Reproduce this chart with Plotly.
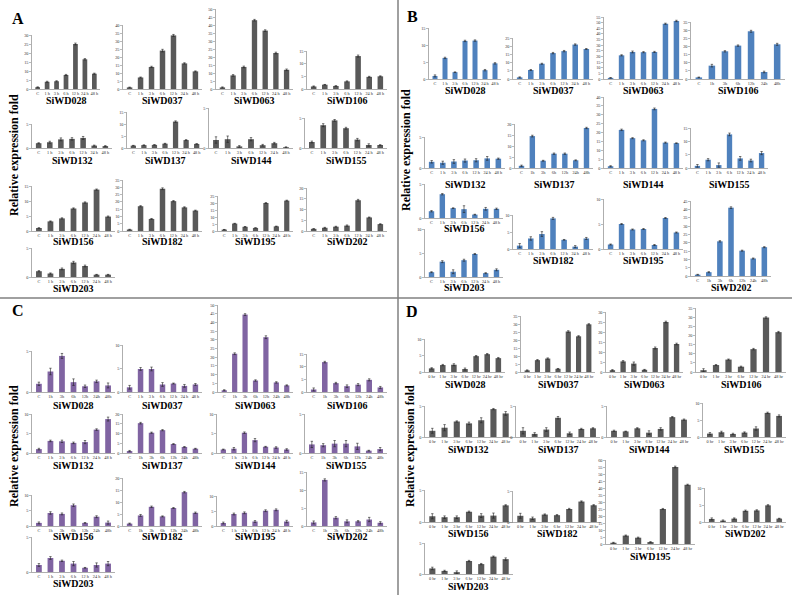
import plotly.graph_objects as go

W, H = 792, 595

GENES = ["SiWD028", "SiWD037", "SiWD063", "SiWD106", "SiWD132", "SiWD137", "SiWD144",
         "SiWD155", "SiWD156", "SiWD182", "SiWD195", "SiWD202", "SiWD203"]

LBL_SP = ["C", "1 h", "3 h", "6 h", "12 h", "24 h", "48 h"]
LBL_NS = ["C", "1h", "3h", "6h", "12h", "24h", "48h"]
LBL_HR = ["0 hr", "1 hr", "3 hr", "6 hr", "12 hr", "24 hr", "48 hr"]

# ---------------- Panel A ----------------
A_VALUES = {
    "SiWD028": [1, 4, 4.3, 7.8, 25, 16.5, 8.5],
    "SiWD037": [1, 7.2, 13.8, 24, 33.5, 16, 11],
    "SiWD063": [1, 8.5, 13.8, 43, 36.5, 22.5, 12],
    "SiWD106": [1, 1.7, 1.2, 3, 13, 4.8, 5],
    "SiWD132": [1, 1.2, 1.8, 1.9, 2.1, 0.5, 0.4],
    "SiWD137": [1, 1.2, 1.3, 1.8, 11, 3.3, 1.7],
    "SiWD144": [1, 1.1, 0.2, 1.1, 0.35, 0.6, 0.1],
    "SiWD155": [1, 3.8, 4.6, 3.3, 1.4, 0.5, 0.5],
    "SiWD156": [1, 3.2, 4.2, 7.5, 9.5, 13.8, 4.8],
    "SiWD182": [1, 17, 8.3, 29, 20.5, 16.2, 14],
    "SiWD195": [1, 5.3, 3, 2.2, 20, 3.3, 21.7],
    "SiWD202": [1, 1.5, 2, 2.5, 14.3, 6.3, 3.2],
    "SiWD203": [1, 0.6, 1.4, 2.5, 1.9, 0.4, 0.4],
}
A_ERR = {
    "SiWD028": [0.2, 0.3, 0.3, 0.3, 0.5, 0.4, 0.3],
    "SiWD037": [0.2, 0.3, 0.4, 0.8, 0.6, 0.4, 0.3],
    "SiWD063": [0.3, 0.5, 0.5, 0.5, 0.5, 0.5, 0.5],
    "SiWD106": [0.2, 0.1, 0.1, 0.2, 0.4, 0.2, 0.2],
    "SiWD132": [0.1, 0.2, 0.3, 0.25, 0.3, 0.1, 0.1],
    "SiWD137": [0.1, 0.1, 0.1, 0.15, 0.3, 0.2, 0.1],
    "SiWD144": [0.4, 0.4, 0.1, 0.2, 0.1, 0.1, 0.05],
    "SiWD155": [0.15, 0.25, 0.15, 0.15, 0.2, 0.2, 0.05],
    "SiWD156": [0.1, 0.15, 0.2, 0.2, 0.2, 0.2, 0.2],
    "SiWD182": [0.2, 0.4, 0.3, 0.6, 0.4, 0.4, 0.3],
    "SiWD195": [0.1, 0.2, 0.2, 0.1, 0.3, 0.2, 0.3],
    "SiWD202": [0.1, 0.2, 0.2, 0.3, 0.4, 0.2, 0.2],
    "SiWD203": [0.1, 0.1, 0.15, 0.2, 0.15, 0.05, 0.05],
}
A_YMAX = [30, 40, 50, 15, 5, 15, 5, 5, 15, 35, 25, 20, 5]
A_LABELS = [LBL_SP] * 13

# ---------------- Panel B ----------------
B_VALUES = {
    "SiWD028": [0.9, 6.2, 2, 11.2, 11.3, 2.6, 4.6],
    "SiWD037": [1, 5.5, 9.3, 15.8, 17, 21, 18.3],
    "SiWD063": [1, 21, 24, 23.8, 24, 49, 51.5],
    "SiWD106": [1, 8.2, 17, 20.5, 29.3, 4.3, 21.3],
    "SiWD132": [1, 0.85, 1.05, 1.2, 1.25, 1.55, 1.5],
    "SiWD137": [1, 14.5, 3.3, 6.5, 6.5, 3.5, 18.2],
    "SiWD144": [1, 21.5, 16.8, 15.6, 33.3, 14.3, 14],
    "SiWD155": [0.8, 3.1, 1.1, 12.6, 3.6, 2.8, 5.6],
    "SiWD156": [1, 3.5, 1.45, 1.3, 0.5, 1.35, 1.35],
    "SiWD182": [1, 3.1, 4.4, 9, 2.7, 0.7, 3.1],
    "SiWD195": [0.9, 5, 3.9, 4, 0.8, 6.2, 3.3],
    "SiWD202": [0.8, 2.3, 20.8, 41, 15.2, 10.5, 17.3],
    "SiWD203": [1, 3.2, 1.1, 3.5, 4.8, 0.8, 1.5],
}
B_ERR = {
    "SiWD028": [0.3, 0.2, 0.1, 0.2, 0.2, 0.2, 0.2],
    "SiWD037": [0.3, 0.3, 0.3, 0.4, 0.4, 0.4, 0.3],
    "SiWD063": [0.3, 0.5, 0.8, 0.5, 0.5, 0.5, 0.6],
    "SiWD106": [0.2, 0.8, 0.4, 0.4, 0.6, 0.5, 0.6],
    "SiWD132": [0.2, 0.25, 0.3, 0.25, 0.25, 0.3, 0.1],
    "SiWD137": [0.3, 0.4, 0.2, 0.3, 0.3, 0.2, 0.3],
    "SiWD144": [0.3, 0.4, 0.3, 0.3, 0.5, 0.3, 0.2],
    "SiWD155": [0.5, 0.4, 0.8, 0.5, 0.7, 0.5, 0.6],
    "SiWD156": [0.1, 0.1, 0.05, 0.5, 0.05, 0.2, 0.1],
    "SiWD182": [0.6, 0.5, 0.7, 0.3, 0.1, 0.3, 0.3],
    "SiWD195": [0.1, 0.1, 0.1, 0.1, 0.1, 0.1, 0.1],
    "SiWD202": [0.2, 0.3, 0.4, 0.5, 0.3, 0.3, 0.3],
    "SiWD203": [0.1, 0.2, 0.4, 0.2, 0.1, 0.1, 0.2],
}
B_YMAX = [15, 25, 55, 35, 5, 20, 40, 15, 5, 10, 10, 45, 10]
B_LABELS = [LBL_SP, LBL_SP, LBL_SP, LBL_NS, LBL_SP, LBL_NS, LBL_SP,
            LBL_SP, LBL_SP, LBL_SP, LBL_SP, LBL_NS, LBL_SP]

# ---------------- Panel C ----------------
C_VALUES = {
    "SiWD028": [1, 2.5, 4.4, 1.2, 0.7, 1.3, 0.8],
    "SiWD037": [1, 4.9, 4.9, 1.6, 1.8, 1.3, 1.6],
    "SiWD063": [1, 22, 44.5, 6.6, 31.5, 5.5, 3.8],
    "SiWD106": [1, 11.8, 3.5, 2.3, 2.9, 4.8, 1.8],
    "SiWD132": [1, 3.1, 3, 2.6, 2.8, 6, 8.7],
    "SiWD137": [1, 15.3, 10.4, 11.7, 4.6, 3.1, 2.2],
    "SiWD144": [0.9, 1.1, 5.2, 3.3, 1.6, 1.4, 0.9],
    "SiWD155": [1.1, 1, 1.2, 1.2, 0.85, 0.3, 0.5],
    "SiWD156": [1, 4.2, 3.9, 6.7, 1, 3, 1.1],
    "SiWD182": [1, 4.4, 8, 4, 7.5, 14.1, 5.5],
    "SiWD195": [1, 4, 4.4, 1.5, 5.1, 5.4, 1.5],
    "SiWD202": [1, 12.8, 2.3, 1.3, 1.3, 1.8, 0.9],
    "SiWD203": [1, 2, 1.6, 1.2, 0.6, 1, 1.2],
}
C_ERR = {
    "SiWD028": [0.2, 0.4, 0.3, 0.4, 0.15, 0.15, 0.3],
    "SiWD037": [0.4, 0.3, 0.4, 0.4, 0.1, 0.3, 0.2],
    "SiWD063": [0.3, 0.5, 0.5, 0.4, 0.8, 0.4, 0.3],
    "SiWD106": [0.6, 0.3, 0.3, 0.5, 0.4, 0.4, 0.4],
    "SiWD132": [0.2, 0.2, 0.3, 0.2, 0.4, 0.2, 0.5],
    "SiWD137": [0.3, 0.4, 0.3, 0.3, 0.2, 0.2, 0.2],
    "SiWD144": [0.1, 0.3, 0.2, 0.4, 0.1, 0.2, 0.2],
    "SiWD155": [0.4, 0.2, 0.4, 0.4, 0.4, 0.05, 0.2],
    "SiWD156": [0.3, 0.4, 0.3, 0.4, 0.1, 0.3, 0.5],
    "SiWD182": [0.2, 0.4, 0.3, 0.2, 0.2, 0.3, 0.3],
    "SiWD195": [0.3, 0.3, 0.3, 0.3, 0.3, 0.3, 0.4],
    "SiWD202": [0.4, 0.3, 0.3, 0.4, 0.2, 0.6, 0.3],
    "SiWD203": [0.2, 0.2, 0.1, 0.3, 0.05, 0.3, 0.3],
}
C_YMAX = [5, 10, 50, 15, 10, 20, 10, 5, 10, 20, 10, 15, 5]
C_LABELS = [LBL_NS, LBL_SP, LBL_NS, LBL_NS, LBL_SP, LBL_NS, LBL_SP,
            LBL_NS, LBL_NS, LBL_NS, LBL_SP, LBL_NS, LBL_SP]

# ---------------- Panel D ----------------
D_VALUES = {
    "SiWD028": [1.1, 2.1, 2.2, 0.9, 4.8, 5.4, 4.2],
    "SiWD037": [1, 7.4, 8.4, 2, 25.3, 22.3, 29.8],
    "SiWD063": [0.9, 5.3, 4.2, 1.1, 12, 25, 14],
    "SiWD106": [1, 3.8, 6.8, 2.9, 12.5, 29.8, 21.8],
    "SiWD132": [1, 1.5, 2.5, 2.2, 2.7, 4.5, 3.8],
    "SiWD137": [1, 0.5, 1.2, 3.1, 0.6, 1.3, 1.4],
    "SiWD144": [1, 0.9, 1.4, 0.7, 1.3, 3.2, 2.8],
    "SiWD155": [1, 1.4, 0.9, 1.3, 2.5, 7.1, 6.2],
    "SiWD156": [0.9, 0.75, 0.75, 1.6, 1, 1, 2.6],
    "SiWD182": [1, 0.6, 1.2, 1.1, 2.1, 3.3, 2.7],
    "SiWD195": [0.9, 6, 4.5, 1.4, 25, 55, 42.3],
    "SiWD202": [0.9, 0.4, 1, 3.3, 3.4, 4.9, 1],
    "SiWD203": [0.9, 0.5, 0.3, 2.1, 1.6, 2.8, 2.4],
}
D_ERR = {
    "SiWD028": [0.2, 0.2, 0.3, 0.3, 0.2, 0.2, 0.2],
    "SiWD037": [0.3, 0.4, 0.4, 0.2, 0.5, 0.4, 0.4],
    "SiWD063": [0.3, 0.4, 0.8, 0.2, 0.5, 0.4, 0.4],
    "SiWD106": [0.8, 0.3, 0.3, 0.3, 0.4, 0.4, 0.4],
    "SiWD132": [0.4, 0.5, 0.1, 0.2, 0.4, 0.1, 0.3],
    "SiWD137": [0.5, 0.2, 0.3, 0.2, 0.2, 0.1, 0.1],
    "SiWD144": [0.1, 0.05, 0.1, 0.3, 0.2, 0.1, 0.1],
    "SiWD155": [0.3, 0.3, 0.2, 0.2, 0.5, 0.2, 0.3],
    "SiWD156": [0.4, 0.2, 0.2, 0.1, 0.3, 0.4, 0.1],
    "SiWD182": [0.4, 0.2, 0.1, 0.1, 0.1, 0.1, 0.1],
    "SiWD195": [0.3, 0.4, 0.4, 0.3, 0.4, 0.6, 0.4],
    "SiWD202": [0.3, 0.2, 0.2, 0.2, 0.2, 0.2, 0.1],
    "SiWD203": [0.2, 0.1, 0.2, 0.1, 0.1, 0.1, 0.2],
}
D_YMAX = [10, 35, 30, 35, 5, 5, 5, 10, 5, 5, 60, 10, 5]
D_LABELS = [LBL_HR] * 13

# ---------------- Layout (pixel boxes: x0, y_top, x1, y_base, title_y) ----------------
A_BOX = [(32, 35, 100, 89, 100), (123, 25, 202, 89, 100), (216, 9, 293, 89, 100), (307, 51, 387, 89, 100),
         (32, 124, 112, 148, 161), (127, 112, 203, 148, 161), (209, 108, 293, 148, 161), (305, 118, 387, 148, 161),
         (32, 186, 115, 231, 241), (123, 180, 202, 231, 241), (218, 196, 293, 231, 241), (307, 188, 387, 231, 241),
         (32, 248, 115, 277, 288)]
B_BOX = [(429, 28, 501, 79, 90), (513, 38, 593, 79, 90), (604, 17, 683, 79, 90), (691, 22, 785, 79, 90),
         (425, 137, 505, 168, 184), (515, 124, 593, 168, 184), (604, 97, 683, 168, 184), (691, 128, 768, 168, 184),
         (425, 184, 503, 218, 229), (513, 215, 593, 249, 260), (604, 199, 683, 249, 260), (691, 201, 771, 276, 287),
         (425, 229, 503, 277, 287)]
C_BOX = [(32, 351, 115, 392, 405), (123, 345, 202, 392, 405), (218, 305, 293, 392, 405), (307, 354, 387, 392, 405),
         (32, 414, 115, 453, 465), (123, 414, 202, 453, 465), (217, 414, 293, 453, 465), (305, 414, 387, 453, 465),
         (32, 495, 115, 526, 536), (123, 478, 202, 526, 536), (217, 496, 293, 526, 536), (307, 472, 387, 526, 536),
         (32, 537, 115, 572, 583)]
D_BOX = [(425, 339, 505, 372, 384), (521, 316, 595, 372, 384), (606, 312, 683, 372, 384), (696, 308, 786, 372, 384),
         (425, 406, 513, 437, 449), (516, 406, 600, 437, 449), (607, 406, 691, 437, 449), (703, 403, 786, 437, 449),
         (425, 490, 513, 522, 533), (513, 491, 601, 522, 533), (606, 460, 695, 544, 556), (705, 488, 786, 522, 533),
         (425, 543, 513, 574, 586)]

PANELS = [
    ("A", A_VALUES, A_ERR, A_YMAX, A_LABELS, A_BOX, "#595959", (18, 18), (14, 155)),
    ("B", B_VALUES, B_ERR, B_YMAX, B_LABELS, B_BOX, "#4F81BD", (412, 16), (406, 150)),
    ("C", C_VALUES, C_ERR, C_YMAX, C_LABELS, C_BOX, "#8064A2", (18, 310), (14, 446)),
    ("D", D_VALUES, D_ERR, D_YMAX, D_LABELS, D_BOX, "#595959", (412, 311), (410, 446)),
]

SERIF = "Liberation Serif, Times New Roman, serif"
AXIS_COLOR = "#8C8C8C"
TICK_FONT = dict(family=SERIF, size=4.3, color="#333333")

fig = go.Figure()
layout = {}
annotations = []
k = 0
for letter, vals, errs, ymaxes, labels, boxes, color, lpos, ypos in PANELS:
    for i, gene in enumerate(GENES):
        k += 1
        x0, yt, x1, yb, ty = boxes[i]
        xa = "x" if k == 1 else f"x{k}"
        ya = "y" if k == 1 else f"y{k}"
        fig.add_trace(go.Bar(
            x=list(range(7)), y=vals[gene], width=0.5,
            marker=dict(color=color, line=dict(width=0)),
            error_y=dict(type="data", array=errs[gene], color="#222222", thickness=0.6, width=1.2),
            xaxis=xa, yaxis=ya, showlegend=False, hoverinfo="skip",
        ))
        xkey = "xaxis" if k == 1 else f"xaxis{k}"
        ykey = "yaxis" if k == 1 else f"yaxis{k}"
        layout[xkey] = dict(
            domain=[x0 / W, x1 / W], anchor=ya, range=[-0.6, 6.6],
            tickmode="array", tickvals=list(range(7)), ticktext=labels[i],
            showline=True, linecolor=AXIS_COLOR, linewidth=0.7, ticks="", showgrid=False,
            zeroline=False, tickfont=TICK_FONT, ticklen=0, tickangle=0, automargin=False,
            fixedrange=True,
        )
        layout[ykey] = dict(
            domain=[1 - yb / H, 1 - yt / H], anchor=xa, range=[0, ymaxes[i]], dtick=5,
            showline=True, linecolor=AXIS_COLOR, linewidth=0.7, ticks="outside", ticklen=2,
            tickwidth=0.6, tickcolor=AXIS_COLOR, showgrid=False, zeroline=False, tickfont=TICK_FONT,
            automargin=False, fixedrange=True,
        )
        annotations.append(dict(
            x=(x0 + x1) / 2 / W, y=1 - ty / H, xref="paper", yref="paper",
            text=f"<b>{gene}</b>", showarrow=False, xanchor="center", yanchor="middle",
            font=dict(family=SERIF, size=10, color="#000000"),
        ))
    annotations.append(dict(
        x=lpos[0] / W, y=1 - lpos[1] / H, xref="paper", yref="paper",
        text=f"<b>{letter}</b>", showarrow=False, xanchor="center", yanchor="middle",
        font=dict(family=SERIF, size=16, color="#000000"),
    ))
    annotations.append(dict(
        x=ypos[0] / W, y=1 - ypos[1] / H, xref="paper", yref="paper",
        text="<b>Relative expression fold</b>", showarrow=False, textangle=-90,
        xanchor="center", yanchor="middle",
        font=dict(family=SERIF, size=12, color="#000000"),
    ))

shapes = [
    dict(type="line", xref="paper", yref="paper", x0=398 / W, x1=398 / W, y0=0, y1=1,
         line=dict(color="#808080", width=1.5)),
    dict(type="line", xref="paper", yref="paper", x0=0, x1=1, y0=1 - 298 / H, y1=1 - 298 / H,
         line=dict(color="#808080", width=1.5)),
]

fig.update_layout(
    width=W, height=H, margin=dict(l=0, r=0, t=0, b=0),
    paper_bgcolor="white", plot_bgcolor="white", hovermode=False,
    annotations=annotations, shapes=shapes, bargap=0.5, **layout,
)

fig.write_html("out.html", config={"displayModeBar": False, "staticPlot": True},
               post_script="document.body.style.margin='0';document.body.style.overflow='hidden';")
